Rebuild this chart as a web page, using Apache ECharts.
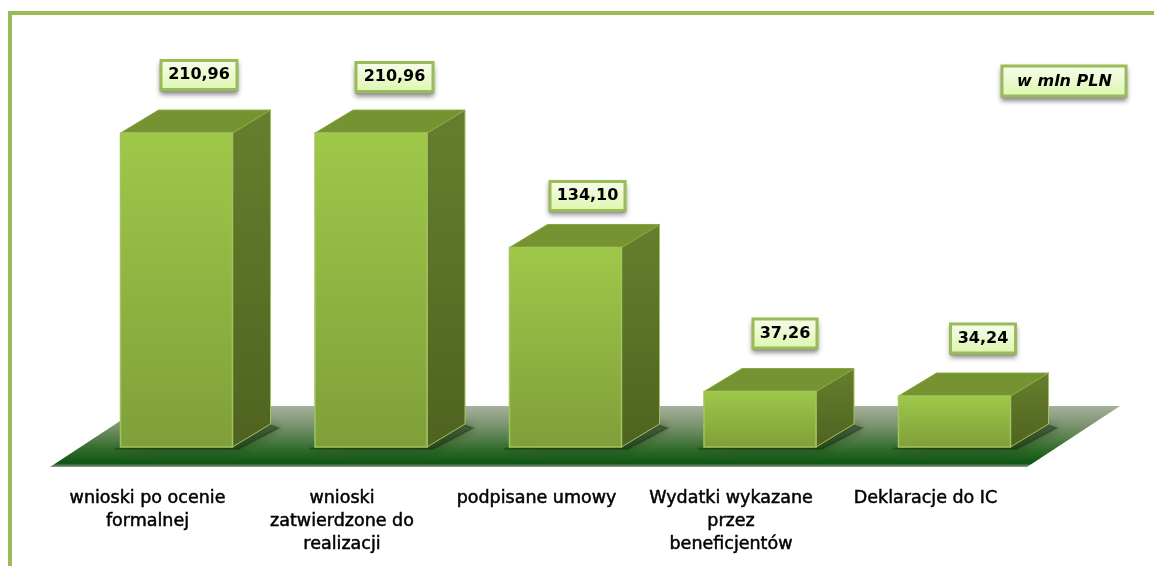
<!DOCTYPE html>
<html>
<head>
<meta charset="utf-8">
<style>html,body{margin:0;padding:0;background:#fff}#c{width:1154px;height:566px}</style>
<script src="https://cdn.jsdelivr.net/npm/echarts@6/dist/echarts.min.js"></script>
</head>
<body>
<div id="c"></div>
<script>
const categories = [
  'wnioski po ocenie\nformalnej',
  'wnioski\nzatwierdzone do\nrealizacji',
  'podpisane umowy',
  'Wydatki wykazane\nprzez\nbeneficjentów',
  'Deklaracje do IC'
];
const values = [210.96, 210.96, 134.10, 37.26, 34.24];
const unitLabel = 'w mln PLN';

// label call-out offsets relative to the bar centre / bar top (layout only)
const calloutDx = [22.5, 23.5, 22, 25, 28.5];
const calloutDy = [-58, -56, -51.5, -58, -57.5];
const calloutW = [76, 77, 75, 64, 65];

const DEPTH_X = 38, DEPTH_Y = 23, BAR_RATIO = 112 / 194.5;
const FRAME = '#9bbb59';
function boxFill() {
  return {type:'linear',x:0,y:0,x2:0,y2:1,colorStops:[{offset:0,color:'#f8fdee'},{offset:1,color:'#dcf7ad'}]};
}
function shadowStyle() {
  return {fill:'#9a9a9a',stroke:'#9a9a9a',lineWidth:1,shadowBlur:5,shadowOffsetY:2,shadowColor:'rgba(70,70,70,0.7)'};
}
function shadowRect(r) {
  return {x:r.x,y:r.y+1,width:r.width,height:r.height+1};
}

function renderBar(params, api) {
  const i = api.value(0);
  const v = api.value(1);
  const top = api.coord([i, v]);
  const base = api.coord([i, 0]);
  const w = api.size([1, 0])[0] * BAR_RATIO;
  const x0 = top[0] - w / 2, x1 = top[0] + w / 2, yT = top[1], yB = base[1];
  const edge = '#a3c45c';
  const cx = top[0] + calloutDx[i], cy = yT + calloutDy[i], bw = calloutW[i], bh = 29;
  const rect = {x:cx-bw/2,y:cy-bh/2,width:bw,height:bh};
  return {
    type: 'group',
    children: [
      { type:'polygon', z2:1, shape:{points:[[x0-6,yB+2],[x1+6,yB+2],[x1+46,yB-19],[x1+30,yB-24],[x1,yB-8]]},
        style:{fill:'rgba(20,40,12,0.38)',stroke:'rgba(20,40,12,0.3)',lineWidth:2,shadowBlur:10,shadowColor:'rgba(20,40,12,0.75)'} },
      { type:'polygon', z2:2, shape:{points:[[x1,yT],[x1+DEPTH_X,yT-DEPTH_Y],[x1+DEPTH_X,yB-DEPTH_Y],[x1,yB]]},
        style:{fill:{type:'linear',x:0,y:0,x2:0,y2:1,colorStops:[{offset:0,color:'#657f2e'},{offset:1,color:'#4f6320'}]},stroke:edge,lineWidth:1} },
      { type:'polygon', z2:3, shape:{points:[[x0,yT],[x0+DEPTH_X,yT-DEPTH_Y],[x1+DEPTH_X,yT-DEPTH_Y],[x1,yT]]},
        style:{fill:'#769331',stroke:'#87a540',lineWidth:1} },
      { type:'rect', z2:4, shape:{x:x0,y:yT,width:w,height:yB-yT},
        style:{fill:{type:'linear',x:0,y:0,x2:0,y2:1,colorStops:[{offset:0,color:'#9fc849'},{offset:1,color:'#7f9f3a'}]},stroke:edge,lineWidth:1.5} },
      { type:'rect', z2:5, shape:shadowRect(rect), style:shadowStyle() },
      { type:'rect', z2:6, shape:rect, style:{fill:boxFill(),stroke:FRAME,lineWidth:3} },
      { type:'text', z2:7, style:{x:cx,y:cy,text:v.toFixed(2).replace('.',','),align:'center',verticalAlign:'middle',
        font:'bold 16px "DejaVu Sans"',fill:'#000'} }
    ]
  };
}

const unitBox = {x:1002,y:66,width:124,height:30};
const chart = echarts.init(document.getElementById('c'), null, {renderer:'canvas'});
chart.setOption({
  animation: false,
  backgroundColor: '#fff',
  grid: { left: 79.25, right: 102.25, top: 75, bottom: 119 },
  xAxis: {
    type: 'category', data: categories,
    axisLine:{show:false}, axisTick:{show:false}, splitLine:{show:false},
    axisLabel:{ interval:0, margin:40, color:'#000', fontFamily:'DejaVu Sans', fontSize:17.5, lineHeight:23,
      align:'center', padding:[0,58,0,0], textBorderColor:'#000', textBorderWidth:0.5, hideOverlap:false }
  },
  yAxis: { type:'value', min:0, max:250, show:false },
  graphic: [
    { type:'rect', z:1, shape:{x:8,y:11,width:1146,height:4}, style:{fill:FRAME} },
    { type:'rect', z:1, shape:{x:8,y:11,width:4,height:555}, style:{fill:FRAME} },
    { type:'polygon', z:1, shape:{points:[[50,467],[1027,467],[1120,406],[143,406]]},
      style:{fill:{type:'linear',x:0,y:0,x2:0,y2:1,colorStops:[
        {offset:0,color:'#a5b09b'},{offset:0.35,color:'#77906b'},{offset:0.72,color:'#2f6b28'},{offset:0.94,color:'#0f5512'},{offset:1,color:'#8f9a8a'}]}} },
    { type:'rect', z:8, shape:shadowRect(unitBox), style:shadowStyle() },
    { type:'rect', z:9, shape:unitBox, style:{fill:boxFill(),stroke:FRAME,lineWidth:3} },
    { type:'text', z:10, style:{x:1064.5,y:82,text:unitLabel,align:'center',verticalAlign:'middle',
      font:'italic bold 16px "DejaVu Sans"',fill:'#000'} }
  ],
  series: [{
    type:'custom', z:3, renderItem:renderBar,
    encode:{x:0,y:1},
    data: values.map((v,i)=>[i,v])
  }]
});
</script>
</body>
</html>
